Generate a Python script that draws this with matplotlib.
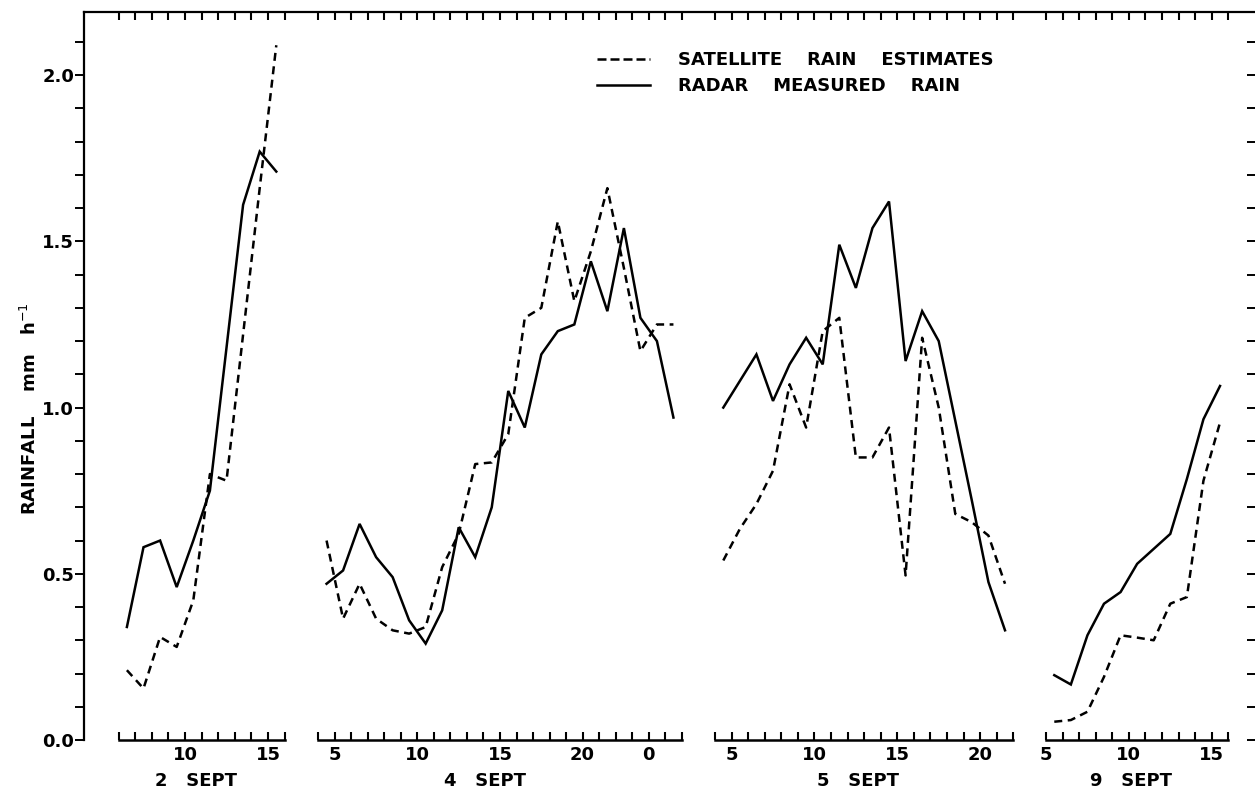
import matplotlib
matplotlib.use("Agg")
import matplotlib.pyplot as plt
from matplotlib.lines import Line2D

# ---------------- data ----------------
sep2_hours = [6.5, 7.5, 8.5, 9.5, 10.5, 11.5, 12.5, 13.5, 14.5, 15.5]
sep2_radar = [0.34, 0.58, 0.60, 0.46, 0.60, 0.75, 1.18, 1.61, 1.77, 1.71]
sep2_sat = [0.21, 0.155, 0.31, 0.28, 0.42, 0.80, 0.78, 1.22, 1.66, 2.09]

sep4_hours = [4.5, 5.5, 6.5, 7.5, 8.5, 9.5, 10.5, 11.5, 12.5, 13.5, 14.5,
              15.5, 16.5, 17.5, 18.5, 19.5, 20.5, 21.5, 22.5, 23.5, 24.5, 25.5]
sep4_radar = [0.47, 0.51, 0.65, 0.55, 0.49, 0.36, 0.29, 0.39, 0.64, 0.55, 0.70,
              1.05, 0.94, 1.16, 1.23, 1.25, 1.44, 1.29, 1.54, 1.27, 1.20, 0.97]
sep4_sat = [0.60, 0.365, 0.47, 0.365, 0.33, 0.32, 0.34, 0.52, 0.62, 0.83, 0.835,
            0.92, 1.27, 1.30, 1.56, 1.32, 1.47, 1.66, 1.42, 1.17, 1.25, 1.25]

sep5_hours = [4.5, 5.5, 6.5, 7.5, 8.5, 9.5, 10.5, 11.5, 12.5, 13.5, 14.5,
              15.5, 16.5, 17.5, 18.5, 19.5, 20.5, 21.5]
sep5_radar = [1.00, 1.08, 1.16, 1.02, 1.13, 1.21, 1.13, 1.49, 1.36, 1.54, 1.62,
              1.14, 1.29, 1.20, 0.96, 0.72, 0.475, 0.33]
sep5_sat = [0.54, 0.635, 0.71, 0.81, 1.07, 0.94, 1.23, 1.27, 0.85, 0.85, 0.94,
            0.495, 1.21, 1.00, 0.68, 0.655, 0.615, 0.47]

sep9_hours = [5.5, 6.5, 7.5, 8.5, 9.5, 10.5, 11.5, 12.5, 13.5, 14.5, 15.5]
sep9_radar = [0.195, 0.167, 0.315, 0.41, 0.445, 0.53, 0.575, 0.62, 0.785, 0.965, 1.065]
sep9_sat = [0.055, 0.06, 0.085, 0.19, 0.315, 0.308, 0.30, 0.41, 0.43, 0.78, 0.955]

panel_names = ["2   SEPT", "4   SEPT", "5   SEPT", "9   SEPT"]
panel_hours = [sep2_hours, sep4_hours, sep5_hours, sep9_hours]
panel_radar = [sep2_radar, sep4_radar, sep5_radar, sep9_radar]
panel_sat = [sep2_sat, sep4_sat, sep5_sat, sep9_sat]
panel_xlim = [(6, 16), (4, 26), (4, 22), (5, 16)]
panel_tick_pos = [[10, 15], [5, 10, 15, 20, 24], [5, 10, 15, 20], [5, 10, 15]]
panel_tick_lab = [["10", "15"], ["5", "10", "15", "20", "0"],
                  ["5", "10", "15", "20"], ["5", "10", "15"]]

y_major = [0.0, 0.5, 1.0, 1.5, 2.0]
y_major_labels = ["0.0", "0.5", "1.0", "1.5", "2.0"]
y_minor = [i / 10 for i in range(0, 22)]

legend_labels = ["SATELLITE    RAIN    ESTIMATES", "RADAR    MEASURED    RAIN"]
ylabel = "RAINFALL    mm   h$^{-1}$"

# ---------------- layout ----------------
W, H = 1255, 791
fig = plt.figure(figsize=(W / 100, H / 100), dpi=100)
plt.rcParams['font.family'] = ['DejaVu Sans']
FS = 13

y_bot = (H - 740) / H
y_top = (H - 12) / H
ax_h = y_top - y_bot
YLIM = (0, 2.19)

ax = fig.add_axes([84 / W, y_bot, 1 - 84 / W, ax_h])
ax.set_ylim(*YLIM)
ax.set_xlim(0, 1)
ax.patch.set_alpha(0)
for s in ["bottom", "right"]:
    ax.spines[s].set_visible(False)
ax.spines["left"].set_linewidth(1.6)
ax.spines["top"].set_linewidth(1.6)
ax.set_xticks([])
ax.set_yticks(y_major, y_major_labels)
ax.set_yticks(y_minor, minor=True)
ax.tick_params(axis='y', which='both', left=True, right=False, direction='out',
               length=6.5, width=1.4, pad=0.5, labelsize=FS)
for t in ax.get_yticklabels():
    t.set_fontweight('bold')
# right side ticks pointing inward
axr = ax.twinx()
axr.set_ylim(*YLIM)
axr.set_yticks(y_minor)
axr.set_yticklabels([])
axr.tick_params(axis='y', right=True, direction='in', length=6, width=1.4)
for s in axr.spines.values():
    s.set_visible(False)

fig.text(30 / W, (H - 409) / H, ylabel, rotation=90, ha='center', va='center',
         fontsize=FS, fontweight='bold')

# panel pixel extents (left edge, right edge of the x-axis segment)
panel_px = [(118.6, 284.6), (318.3, 681.7), (715.0, 1013.3), (1046.0, 1228.3)]
label_frac = [0.466, 0.459, 0.479, 0.466]

for i in range(4):
    x0, x1 = panel_px[i]
    sub = fig.add_axes([x0 / W, y_bot, (x1 - x0) / W, ax_h])
    sub.patch.set_alpha(0)
    sub.set_ylim(*YLIM)
    lo, hi = panel_xlim[i]
    sub.set_xlim(lo, hi)
    for s in ["left", "right", "top"]:
        sub.spines[s].set_visible(False)
    sub.spines["bottom"].set_linewidth(1.8)
    sub.set_yticks([])
    hrs = list(range(lo, hi + 1))
    labs = [panel_tick_lab[i][panel_tick_pos[i].index(h)] if h in panel_tick_pos[i] else ""
            for h in hrs]
    sub.set_xticks(hrs, labs)
    sub.tick_params(axis='x', bottom=True, top=True, direction='in', length=5.5,
                    width=1.5, pad=4.5, labelsize=FS)
    for t in sub.get_xticklabels():
        t.set_fontweight('bold')
    sub.plot(panel_hours[i], panel_radar[i], color='black', lw=1.8,
             solid_joinstyle='miter', clip_on=False)
    sub.plot(panel_hours[i], panel_sat[i], color='black', lw=1.8,
             dashes=(3.2, 2.2), clip_on=False)
    sub.text(label_frac[i], -41 / 728, panel_names[i], transform=sub.transAxes,
             ha='center', va='center', fontsize=FS, fontweight='bold')

handles = [Line2D([], [], color='black', lw=1.8, dashes=(3.6, 1.6)),
           Line2D([], [], color='black', lw=1.8)]
leg = fig.legend(handles, legend_labels, loc='upper left',
                 bbox_to_anchor=(597 / W, 1 - 51 / H), bbox_transform=fig.transFigure,
                 frameon=False, borderpad=0, borderaxespad=0, handlelength=2.95,
                 handletextpad=1.55, labelspacing=0.45,
                 prop=dict(family='DejaVu Sans', weight='bold', size=FS))

fig.savefig("out.png", dpi=100)
